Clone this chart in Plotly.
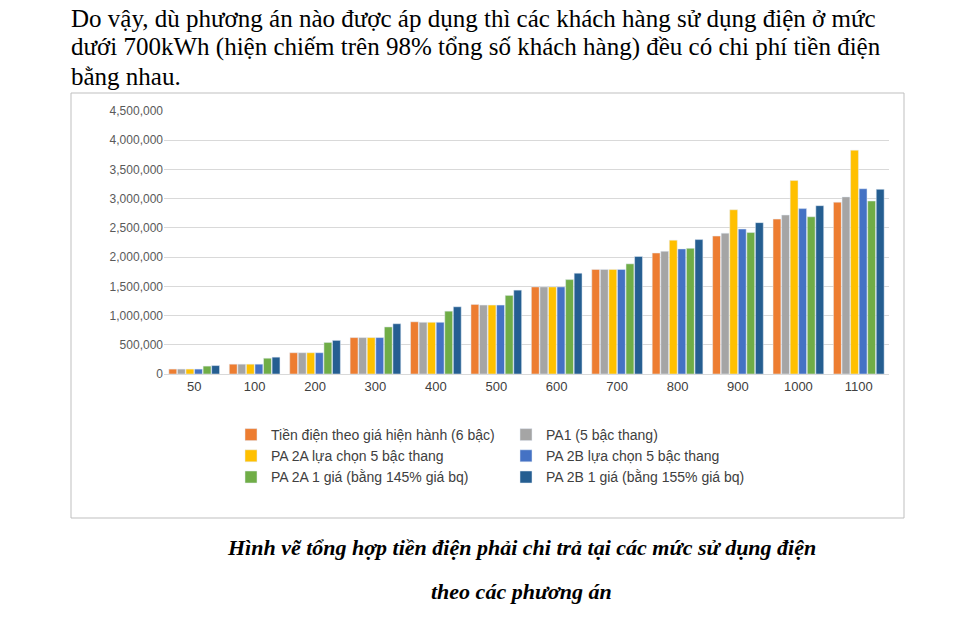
import plotly.graph_objects as go

categories = ["50", "100", "200", "300", "400", "500", "600", "700", "800", "900", "1000", "1100"]
hien_hanh = [84000, 168000, 364000, 623000, 893000, 1190000, 1490000, 1790000, 2070000, 2360000, 2650000, 2940000]
pa1 = [84000, 168000, 364000, 623000, 885000, 1180000, 1490000, 1790000, 2100000, 2410000, 2720000, 3030000]
pa2a_bac = [84000, 168000, 364000, 623000, 885000, 1180000, 1490000, 1790000, 2290000, 2810000, 3310000, 3830000]
pa2b_bac = [84000, 168000, 364000, 623000, 885000, 1180000, 1490000, 1790000, 2140000, 2480000, 2830000, 3170000]
pa2a_1gia = [135000, 270000, 540000, 805000, 1075000, 1345000, 1615000, 1885000, 2150000, 2420000, 2690000, 2960000]
pa2b_1gia = [144000, 288000, 575000, 860000, 1150000, 1435000, 1725000, 2010000, 2300000, 2590000, 2880000, 3160000]

names = ["Tiền điện theo giá hiện hành (6 bậc)", "PA1 (5 bậc thang)",
         "PA 2A lựa chọn 5 bậc thang", "PA 2B lựa chọn 5 bậc thang",
         "PA 2A 1 giá (bằng 145% giá bq)", "PA 2B 1 giá (bằng 155% giá bq)"]
series = [hien_hanh, pa1, pa2a_bac, pa2b_bac, pa2a_1gia, pa2b_1gia]
colors = ["#ED7D31", "#A5A5A5", "#FFC000", "#4472C4", "#70AD47", "#255E91"]

fig = go.Figure()
for n, s, c in zip(names, series, colors):
    fig.add_trace(go.Bar(x=categories, y=s, name=n, marker_color=c))

# page seems offset by ~8px, so compensate
OX, OY = 9, 7
W, H = 960, 619
L, R, T, B = 165 - OX, 70 + OX, 110 - OY, 246 + OY
pw, ph = W - L - R, H - T - B

def px(x):
    return (x - OX - L) / pw

def py(y):
    return (H - B - (y - OY)) / ph

fig.update_layout(
    width=W, height=H, margin=dict(l=L, r=R, t=T, b=B),
    paper_bgcolor="white", plot_bgcolor="white",
    barmode="group", bargap=0.15, bargroupgap=0.08,
    font=dict(family="Liberation Sans, Arial", size=13, color="#404040"),
    xaxis=dict(type="category", showline=True, linecolor="#D9D9D9", ticks="",
               tickfont=dict(size=13, color="#404040")),
    yaxis=dict(range=[0, 4500000], dtick=500000, tickformat=",.0f",
               gridcolor="#D9D9D9", zeroline=False, tickfont=dict(size=12, color="#595959")),
    legend=dict(orientation="h", x=px(232), y=py(418), yanchor="top", xanchor="left",
                entrywidth=230, font=dict(size=14, color="#404040"), traceorder="normal"),
    showlegend=True,
)

fig.add_shape(type="rect", xref="paper", yref="paper", x0=px(72), x1=px(905), y0=py(517), y1=py(92),
              line=dict(color="#BFBFBF", width=1), layer="below")

serif = "Liberation Serif, Times New Roman"
para = ["Do vậy, dù phương án nào được áp dụng thì các khách hàng sử dụng điện ở mức",
        "dưới 700kWh (hiện chiếm trên 98% tổng số khách hàng) đều có chi phí tiền điện",
        "bằng nhau."]
for i, line in enumerate(para):
    fig.add_annotation(text=line, xref="paper", yref="paper", x=px(70), y=py(17 + i * 29),
                       xanchor="left", yanchor="middle", showarrow=False,
                       font=dict(family=serif, size=25, color="black"))
fig.add_annotation(text="<b><i>Hình vẽ tổng hợp tiền điện phải chi trả tại các mức sử dụng điện</i></b>",
                   xref="paper", yref="paper", x=px(522), y=py(546), xanchor="center", yanchor="middle",
                   showarrow=False, font=dict(family=serif, size=22, color="black"))
fig.add_annotation(text="<b><i>theo các phương án</i></b>",
                   xref="paper", yref="paper", x=px(522), y=py(590), xanchor="center", yanchor="middle",
                   showarrow=False, font=dict(family=serif, size=22, color="black"))

fig.write_html("out.html")
